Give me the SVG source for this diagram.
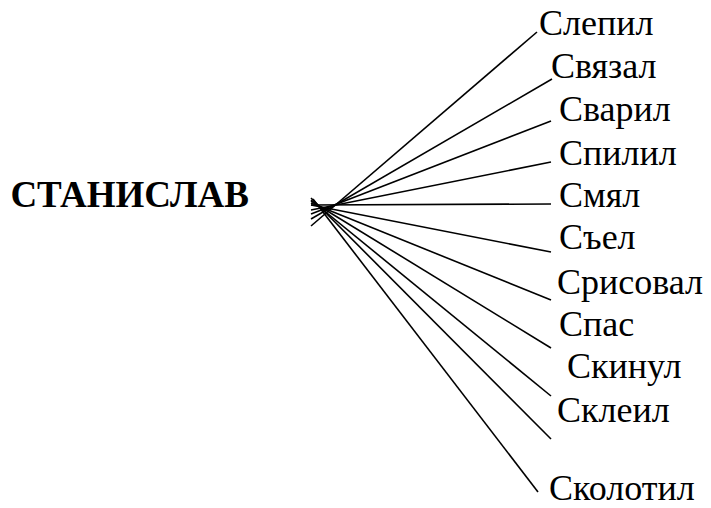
<svg xmlns="http://www.w3.org/2000/svg" width="711" height="508" viewBox="0 0 711 508">
<style>
.lbl{font-family:'Liberation Serif','Times New Roman',serif;font-size:36px;fill:#000}
.title{font-family:'Liberation Serif','Times New Roman',serif;font-size:37px;font-weight:bold;fill:#000}
.ln{stroke:#000;stroke-width:1.6;fill:none}
</style>
<rect width="711" height="508" fill="#fff"/>
<g id="stanislav"><text class="title" x="249" y="207" text-anchor="end">СТАНИСЛАВ</text></g>
<g id="connectors">
<line class="ln" x1="311" y1="226" x2="537" y2="32"/>
<line class="ln" x1="311" y1="219" x2="552" y2="79"/>
<line class="ln" x1="311" y1="214" x2="551" y2="121"/>
<line class="ln" x1="311" y1="210" x2="551" y2="162"/>
<line class="ln" x1="311" y1="205" x2="551" y2="204"/>
<line class="ln" x1="311" y1="205" x2="551" y2="252"/>
<line class="ln" x1="311" y1="203" x2="551" y2="300"/>
<line class="ln" x1="311" y1="201" x2="551" y2="348"/>
<line class="ln" x1="311" y1="200" x2="551" y2="396"/>
<line class="ln" x1="311" y1="198" x2="551" y2="439"/>
<line class="ln" x1="313" y1="199" x2="538" y2="492"/>
</g>
<g id="n1"><text class="lbl" x="539" y="35">Слепил</text></g>
<g id="n2"><text class="lbl" x="551" y="78">Связал</text></g>
<g id="n3"><text class="lbl" x="559" y="121">Сварил</text></g>
<g id="n4"><text class="lbl" x="559" y="165">Спилил</text></g>
<g id="n5"><text class="lbl" x="559" y="207">Смял</text></g>
<g id="n6"><text class="lbl" x="559" y="249">Съел</text></g>
<g id="n7"><text class="lbl" x="557" y="294">Срисовал</text></g>
<g id="n8"><text class="lbl" x="559" y="336">Спас</text></g>
<g id="n9"><text class="lbl" x="567" y="378">Скинул</text></g>
<g id="n10"><text class="lbl" x="557" y="422">Склеил</text></g>
<g id="n11"><text class="lbl" x="549" y="500">Сколотил</text></g>
</svg>
